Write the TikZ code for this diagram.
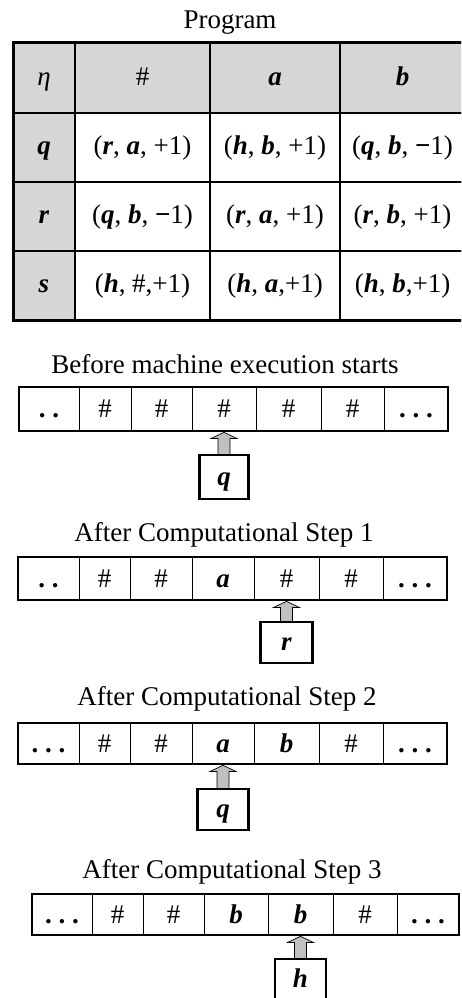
\documentclass[tikz,border=0pt]{standalone}
\usepackage{fontspec}
\setmainfont{Liberation Serif}
\usetikzlibrary{calc}

\definecolor{headshade}{HTML}{D6D6D6}
\definecolor{arrowgray}{HTML}{C0C0C0}

% bold italic symbol
\newcommand\bv[1]{\textbf{\textit{#1}}}
\newcommand\dd{\textbf{.\ .}}
\newcommand\ddd{\textbf{.\ .\ .}}

% one tape: prefix, top, bottom, list of left/right/label
\newcommand\tape[4]{%
  \foreach \l/\r/\t [count=\i] in {#4} {
    \node[tapecell, minimum width={(\r-\l)*1pt}, minimum height={(#3-#2)*1pt}]
      (#1\i) at ({(\l+\r)/2},{(#2+#3)/2}) {\t};
  }
  \draw[line width=2.5pt] (#11.north west) rectangle (#17.south east);
}

% block arrow from the head box up to a tape cell
\newcommand\headarrow[2]{%
  \path let \p1=(#1.north), \p2=(#2.south) in
    [draw=black, fill=arrowgray, line width=0.7pt]
    (\x1-6pt,\y1) -- (\x1-6pt,\y2-7.5pt) -- (\x1-13pt,\y2-7.5pt)
    -- (\x1,\y2-1.3pt) -- (\x1+13pt,\y2-7.5pt) -- (\x1+6pt,\y2-7.5pt)
    -- (\x1+6pt,\y1) -- cycle;
}

\begin{document}
\begin{tikzpicture}[x=1pt,y=-1pt,
  font=\fontsize{27}{30}\selectfont,
  title/.style={anchor=base, inner sep=0pt},
  tapecell/.style={draw, line width=1pt, inner sep=0pt, outer sep=0pt,
    text height=20pt, text depth=3pt},
  tcell/.style={draw, line width=1.5pt, inner sep=0pt, outer sep=0pt,
    text height=20pt, text depth=6pt},
  shaded/.style={tcell, fill=headshade},
  headbox/.style={draw, line width=2.5pt, inner sep=0pt, outer sep=0pt,
    text height=20pt, text depth=4pt, fill=white}]
\useasboundingbox (0,0) rectangle (461,998);
\clip (0,0) rectangle (461,998);

% ---- program table ----
\node[title] (ptitle) at (230,29) {Program};

\node[shaded, minimum width=62pt,  minimum height=70pt] (h0) at (44,78)     {\textit{η}};
\node[shaded, minimum width=135pt, minimum height=70pt] (h1) at (142.5,78)  {\#};
\node[shaded, minimum width=130pt, minimum height=70pt] (h2) at (275,78)    {\bv{a}};
\node[shaded, minimum width=125pt, minimum height=70pt] (h3) at (402.5,78)  {\bv{b}};

\node[shaded, minimum width=62pt,  minimum height=69pt] (q0) at (44,147.5)    {\bv{q}};
\node[tcell,  minimum width=135pt, minimum height=69pt] (q1) at (142.5,147.5) {(\bv{r}, \bv{a}, +1)};
\node[tcell,  minimum width=130pt, minimum height=69pt] (q2) at (275,147.5)   {(\bv{h}, \bv{b}, +1)};
\node[tcell,  minimum width=125pt, minimum height=69pt] (q3) at (402.5,147.5) {(\bv{q}, \bv{b}, \textbf{−}1)};

\node[shaded, minimum width=62pt,  minimum height=69pt] (r0) at (44,216.5)    {\bv{r}};
\node[tcell,  minimum width=135pt, minimum height=69pt] (r1) at (142.5,216.5) {(\bv{q}, \bv{b}, \textbf{−}1)};
\node[tcell,  minimum width=130pt, minimum height=69pt] (r2) at (275,216.5)   {(\bv{r}, \bv{a}, +1)};
\node[tcell,  minimum width=125pt, minimum height=69pt] (r3) at (402.5,216.5) {(\bv{r}, \bv{b}, +1)};

\node[shaded, minimum width=62pt,  minimum height=69pt] (s0) at (44,285.5)    {\bv{s}};
\node[tcell,  minimum width=135pt, minimum height=69pt] (s1) at (142.5,285.5) {(\bv{h}, \#,+1)};
\node[tcell,  minimum width=130pt, minimum height=69pt] (s2) at (275,285.5)   {(\bv{h}, \bv{a},+1)};
\node[tcell,  minimum width=125pt, minimum height=69pt] (s3) at (402.5,285.5) {(\bv{h}, \bv{b},+1)};

\draw[line width=3pt] (h0.north west) rectangle (s3.south east);

% ---- tape before execution ----
\node[title] (t0title) at (225,373) {Before machine execution starts};
\tape{tA}{387}{431}{19/79/\dd, 79/131/\#, 131/192/\#, 192/256/\#, 256/321/\#, 321/384/\#, 384/448/\ddd}
\node[headbox, minimum width=49pt, minimum height=44pt] (hA) at (224,477) {\bv{q}};
\headarrow{hA}{tA4}
\node[headbox, minimum width=49pt, minimum height=44pt] at (hA) {\bv{q}};

% ---- after step 1 ----
\node[title] (t1title) at (224,541) {After Computational Step 1};
\tape{tB}{557}{600}{18/79/\dd, 79/130/\#, 130/192/\#, 192/254/\bv{a}, 254/319/\#, 319/383/\#, 383/447/\ddd}
\node[headbox, minimum width=52pt, minimum height=41pt] (hB) at (286.5,642.5) {\bv{r}};
\headarrow{hB}{tB5}
\node[headbox, minimum width=52pt, minimum height=41pt] at (hB) {\bv{r}};

% ---- after step 2 ----
\node[title] (t2title) at (227,705) {After Computational Step 2};
\tape{tC}{723}{764}{18/79/\ddd, 79/130/\#, 130/192/\#, 192/254/\bv{a}, 254/319/\bv{b}, 319/383/\#, 383/447/\ddd}
\node[headbox, minimum width=51pt, minimum height=41pt] (hC) at (223,809.5) {\bv{q}};
\headarrow{hC}{tC4}
\node[headbox, minimum width=51pt, minimum height=41pt] at (hC) {\bv{q}};

% ---- after step 3 ----
\node[title] (t3title) at (232,878) {After Computational Step 3};
\tape{tD}{894}{935}{32/92/\ddd, 92/143/\#, 143/204/\#, 204/268/\bv{b}, 268/333/\bv{b}, 333/397/\#, 397/459/\ddd}
\node[headbox, minimum width=51pt, minimum height=41pt] (hD) at (300.5,979.5) {\bv{h}};
\headarrow{hD}{tD5}
\node[headbox, minimum width=51pt, minimum height=41pt] at (hD) {\bv{h}};
\end{tikzpicture}
\end{document}
